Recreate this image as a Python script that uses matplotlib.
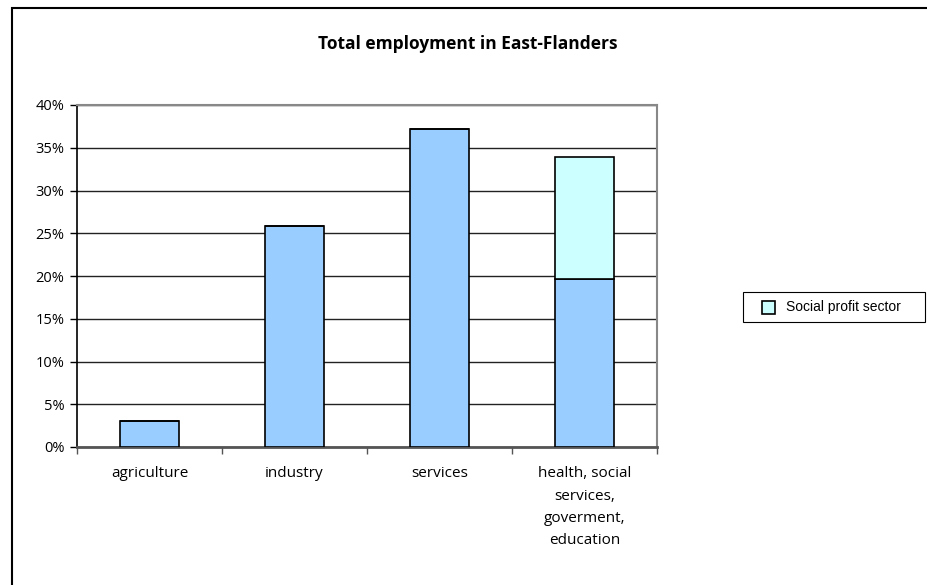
import numpy as np
import matplotlib.pyplot as plt
from matplotlib.patches import Rectangle

# data
categories = ['agriculture', 'industry', 'services',
              'health, social\nservices,\ngoverment,\neducation']
base_values = [3.0, 25.9, 37.2, 19.7]
social_profit = [0, 0, 0, 14.2]
y_ticks = [0, 5, 10, 15, 20, 25, 30, 35, 40]
legend_label = 'Social profit sector'

blue = '#99CCFF'
cyan = '#CCFFFF'

plt.rcParams['font.family'] = ['Open Sans', 'DejaVu Sans']

W, H = 928, 585
fig = plt.figure(figsize=(W / 100, H / 100), dpi=100)
ax = fig.add_axes([77 / W, 1 - 447 / H, 580 / W, 342 / H])

x = np.arange(len(categories))
ax.bar(x, base_values, width=0.41, color=blue, edgecolor='black', linewidth=1.2, zorder=3)
ax.bar(x, social_profit, width=0.41, bottom=base_values, color=cyan,
       edgecolor='black', linewidth=1.2, zorder=3)

ax.set_xlim(-0.5, len(categories) - 0.5)
ax.set_ylim(0, 40)
ax.set_yticks(y_ticks)
ax.set_yticklabels([f'{t}%' for t in y_ticks], fontsize=10.5)
ax.set_xticks(x)
ax.set_xticklabels(categories, fontsize=11, linespacing=1.65, va='top')
ax.tick_params(axis='x', length=0, pad=14)
ax.set_xticks(np.arange(-0.5, len(categories)), minor=True)
ax.tick_params(axis='x', which='minor', length=5, width=1, color='#555555')
ax.tick_params(axis='y', length=5, width=1, pad=4)

ax.yaxis.grid(True, color='#222222', linewidth=1)
ax.set_axisbelow(True)

for s in ['top', 'right']:
    ax.spines[s].set_color('#888888')
    ax.spines[s].set_linewidth(1.5)
ax.spines['left'].set_color('black')
ax.spines['left'].set_linewidth(1.2)
ax.spines['bottom'].set_color('#555555')
ax.spines['bottom'].set_linewidth(2)

# title centred over the chart area
fig.text(468 / W, 1 - 44 / H, 'Total employment in East-Flanders',
         ha='center', va='center', fontsize=12.5, fontweight='bold')

# legend box drawn by hand to get Excel's proportions
fig.add_artist(Rectangle((743 / W, 1 - 322 / H), 182 / W, 30 / H, transform=fig.transFigure,
                         facecolor='white', edgecolor='black', linewidth=0.8))
fig.add_artist(Rectangle((762 / W, 1 - 314 / H), 13 / W, 13 / H, transform=fig.transFigure,
                         facecolor=cyan, edgecolor='black', linewidth=1.2))
fig.text(786 / W, 1 - 307.5 / H, legend_label, ha='left', va='center',
         fontsize=10, family='Liberation Sans')

# chart area border (cut off at right and bottom)
fig.add_artist(Rectangle((12 / W, -0.1), 2, 1 - 8 / H + 0.1, transform=fig.transFigure,
                         fill=False, edgecolor='black', linewidth=1.5))

fig.savefig('out.png', dpi=100)
